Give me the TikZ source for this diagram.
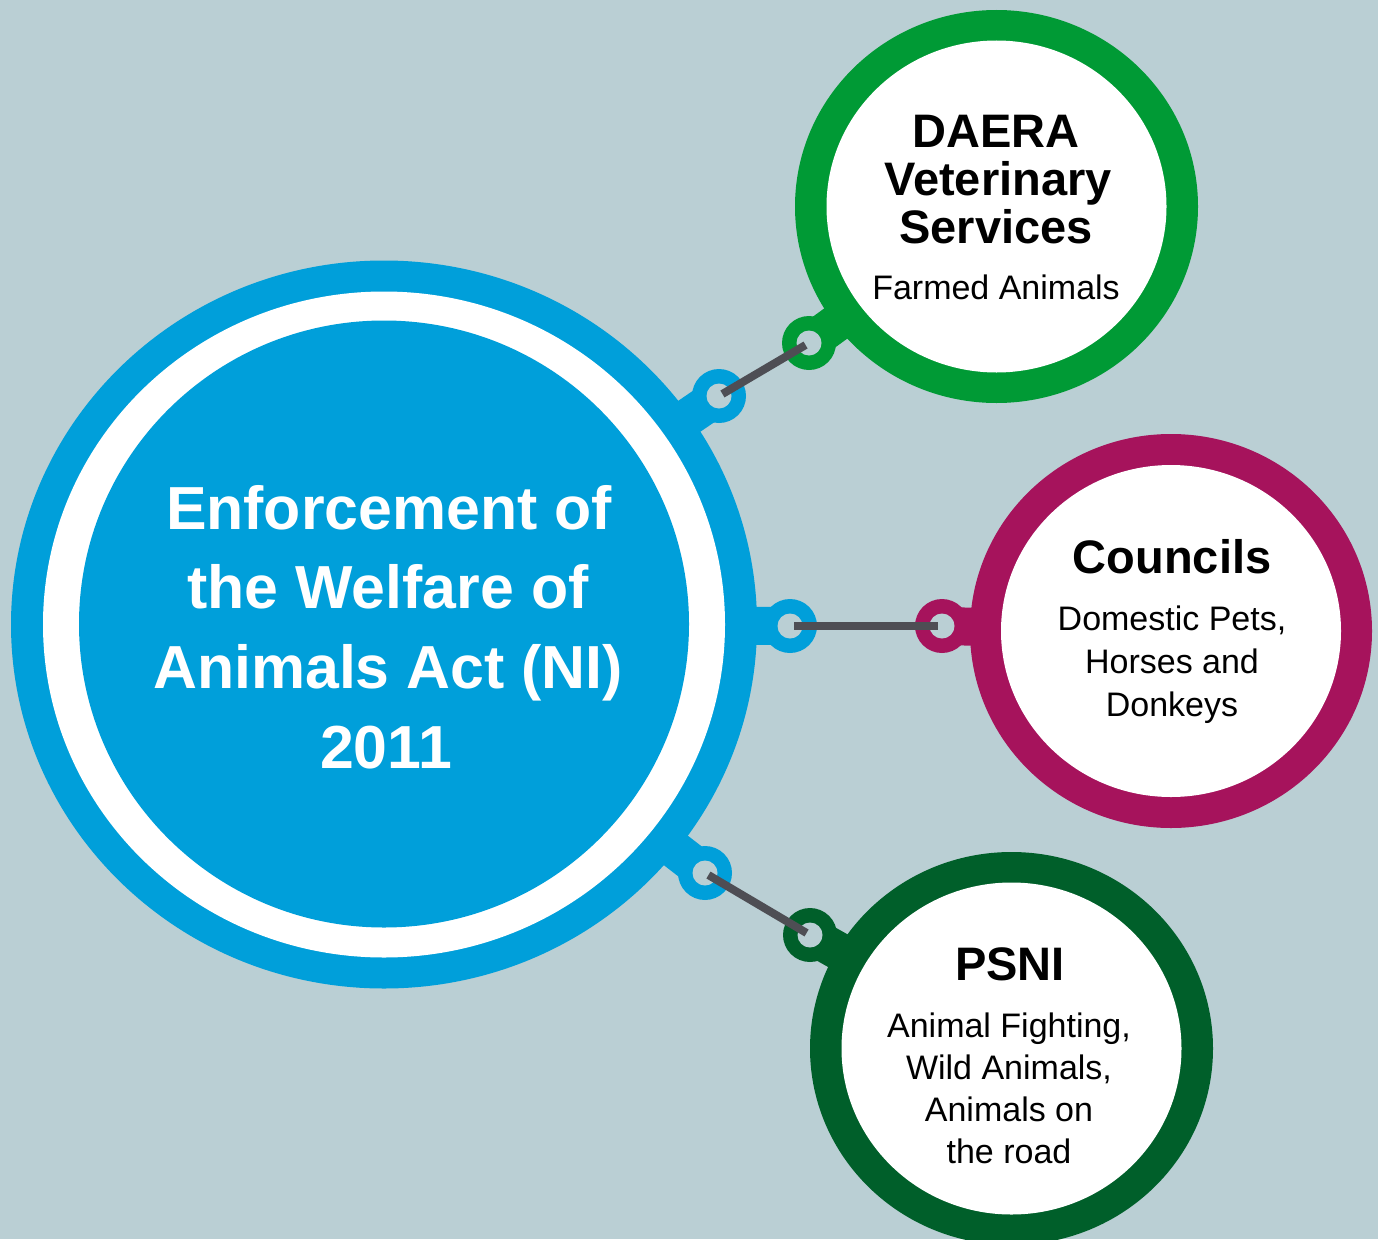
\documentclass[tikz,border=0pt]{standalone}
\usepackage{fontspec}
\setmainfont{Liberation Sans}
\usetikzlibrary{shapes.geometric,calc}
\definecolor{bg}{HTML}{BACFD4}
\definecolor{mainblue}{HTML}{009FDA}
\definecolor{daeragreen}{HTML}{009A35}
\definecolor{councilred}{HTML}{A6135C}
\definecolor{psnigreen}{HTML}{005F2A}
\definecolor{linkgray}{HTML}{4E4E54}
\begin{document}
\begin{tikzpicture}[x=1pt,y=-1pt,
  disc/.style={ellipse, inner sep=0pt, outer sep=0pt, draw=none},
  ringnode/.style={circle, inner sep=0pt, outer sep=0pt, minimum size=54pt, fill=#1},
  holenode/.style={circle, inner sep=0pt, outer sep=0pt, minimum size=25pt, fill=bg},
  neck/.style={line width=38pt, draw=#1},
  link/.style={line width=8pt, draw=linkgray, shorten <=4pt, shorten >=4pt},
  titletext/.style={font=\fontsize{47}{48}\selectfont\bfseries, anchor=base, inner sep=0pt},
  subtext/.style={font=\fontsize{34}{40}\selectfont, anchor=base, inner sep=0pt},
  bigtext/.style={font=\fontsize{60.8}{72}\selectfont\bfseries, text=white, anchor=base, inner sep=0pt}]

\fill[bg] (0,0) rectangle (1378,1239);
\useasboundingbox (0,0) rectangle (1378,1239);

% main circle
\node[disc, fill=mainblue, minimum width=746pt, minimum height=728pt] (main) at (384,624.5) {};
\node[disc, fill=white, minimum width=682pt, minimum height=666pt] (mainwhite) at (384,624.5) {};
\node[disc, fill=mainblue, minimum width=610pt, minimum height=607pt] (maininner) at (384,624) {};

% agency circles
\node[disc, fill=daeragreen, minimum width=403pt, minimum height=393pt] (daera) at (996.5,206.5) {};
\node[disc, fill=white, minimum width=340pt, minimum height=332pt] (daerawhite) at (996.5,206.5) {};
\node[disc, fill=councilred, minimum width=402pt, minimum height=394pt] (council) at (1171,631) {};
\node[disc, fill=white, minimum width=340pt, minimum height=332pt] (councilwhite) at (1171,631) {};
\node[disc, fill=psnigreen, minimum width=403pt, minimum height=393pt] (psni) at (1011.5,1048.5) {};
\node[disc, fill=white, minimum width=340pt, minimum height=332pt] (psniwhite) at (1011.5,1048.5) {};

% connector points
\coordinate (ma) at (719,396);
\coordinate (da) at (809,343);
\coordinate (mb) at (790,626);
\coordinate (cb) at (942,626);
\coordinate (mc) at (705,873);
\coordinate (pc) at (810,935);

% necks
\draw[neck=mainblue] ($(main.center)!352pt!(ma)$) -- (ma);
\draw[neck=mainblue] ($(main.center)!352pt!(mb)$) -- (mb);
\draw[neck=mainblue] ($(main.center)!352pt!(mc)$) -- (mc);
\draw[neck=daeragreen] ($(daera.center)!183pt!(da)$) -- (da);
\draw[neck=councilred] ($(council.center)!183pt!(cb)$) -- (cb);
\draw[neck=psnigreen] ($(psni.center)!183pt!(pc)$) -- (pc);

% connector rings
\node[ringnode=mainblue] (ringma) at (ma) {};
\node[ringnode=mainblue] (ringmb) at (mb) {};
\node[ringnode=mainblue] (ringmc) at (mc) {};
\node[ringnode=daeragreen] (ringda) at (da) {};
\node[ringnode=councilred] (ringcb) at (cb) {};
\node[ringnode=psnigreen] (ringpc) at (pc) {};
\node[holenode] (holema) at (ma) {};
\node[holenode] (holemb) at (mb) {};
\node[holenode] (holemc) at (mc) {};
\node[holenode] (holeda) at (da) {};
\node[holenode] (holecb) at (cb) {};
\node[holenode] (holepc) at (pc) {};

% links
\draw[link] (holema.center) -- (holeda.center);
\draw[link] (holemb.center) -- (holecb.center);
\draw[link] (holemc.center) -- (holepc.center);

% main text
\node[bigtext] (t1) at (389,529) {Enforcement of};
\node[bigtext] (t2) at (388,608) {the Welfare of};
\node[bigtext] (t3) at (388,688) {Animals Act (NI)};
\node[bigtext] (t4) at (386,768) {2011};

% DAERA text
\node[titletext] (d1) at (996,147) {DAERA};
\node[titletext] (d2) at (998,195) {Veterinary};
\node[titletext] (d3) at (996,243) {Services};
\node[subtext] (d4) at (996,299) {Farmed Animals};

% Councils text
\node[titletext] (c1) at (1172,573) {Councils};
\node[subtext] (c2) at (1172,630) {Domestic Pets,};
\node[subtext] (c3) at (1172,673) {Horses and};
\node[subtext] (c4) at (1172,716) {Donkeys};

% PSNI text
\node[titletext] (p1) at (1010,980) {PSNI};
\node[subtext] (p2) at (1009,1037) {Animal Fighting,};
\node[subtext] (p3) at (1009,1079) {Wild Animals,};
\node[subtext] (p4) at (1009,1121) {Animals on};
\node[subtext] (p5) at (1009,1163) {the road};
\end{tikzpicture}
\end{document}
